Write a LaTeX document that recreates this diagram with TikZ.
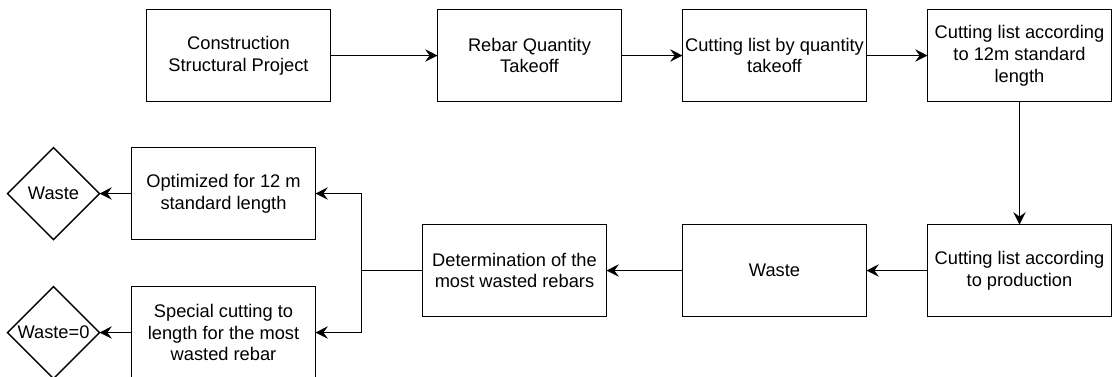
\documentclass[tikz,border=0pt]{standalone}
\usepackage{fontspec}
\setmainfont{Liberation Sans}
\usetikzlibrary{positioning,shapes.geometric,arrows.meta}

\begin{document}
\begin{tikzpicture}[->, >={Stealth[length=7pt, width=7pt, inset=2.5pt]}, thick, node distance=1.22cm,
	main node/.style={rectangle, draw, align=center, minimum width=3.68cm, minimum height=1.84cm, inner sep=0pt, outer sep=0pt, font=\fontsize{10.4pt}{12.4pt}\selectfont},
	end node/.style={diamond, draw, aspect=1, minimum width=1.84cm, minimum height=1.84cm, inner sep=0pt, outer sep=0pt, font=\fontsize{10.4pt}{12.4pt}\selectfont}]
	\useasboundingbox (0,0) rectangle (22.24,-7.52);
	% top row
	\node[main node] (N1) at (4.77,-1.11) {Construction\\Structural Project};
	\node[main node] (N2) [right=2.14cm of N1] {Rebar Quantity\\Takeoff};
	\node[main node] (N3) [right=of N2] {Cutting list by quantity\\takeoff};
	\node[main node] (N4) [right=of N3] {Cutting list according\\to 12m standard\\length};
	% bottom row, right to left
	\node[main node] (N5) [below=2.46cm of N4] {Cutting list according\\to production};
	\node[main node] (N6) [left=of N5] {Waste};
	\node[main node] (N7) [left=1.52cm of N6] {Determination of the\\most wasted rebars};
	\coordinate[left=of N7.west] (J);
	\node[main node] (N8) [left=2.14cm of N7, yshift=1.54cm] {Optimized for 12 m\\standard length};
	\node[main node] (N9) [left=2.14cm of N7, yshift=-1.24cm] {Special cutting to\\length for the most\\wasted rebar};
	\node[end node] (D1) [left=0.64cm of N8] {Waste};
	\node[end node] (D2) [left=0.64cm of N9] {Waste=0};
	\path
		(N1) edge (N2)
		(N2) edge (N3)
		(N3) edge (N4)
		(N4) edge (N5)
		(N5) edge (N6)
		(N6) edge (N7)
		(N8) edge (D1)
		(N9) edge (D2);
	\draw (N7) -- (J) |- (N8);
	\draw (J) |- (N9);
\end{tikzpicture}
\end{document}
